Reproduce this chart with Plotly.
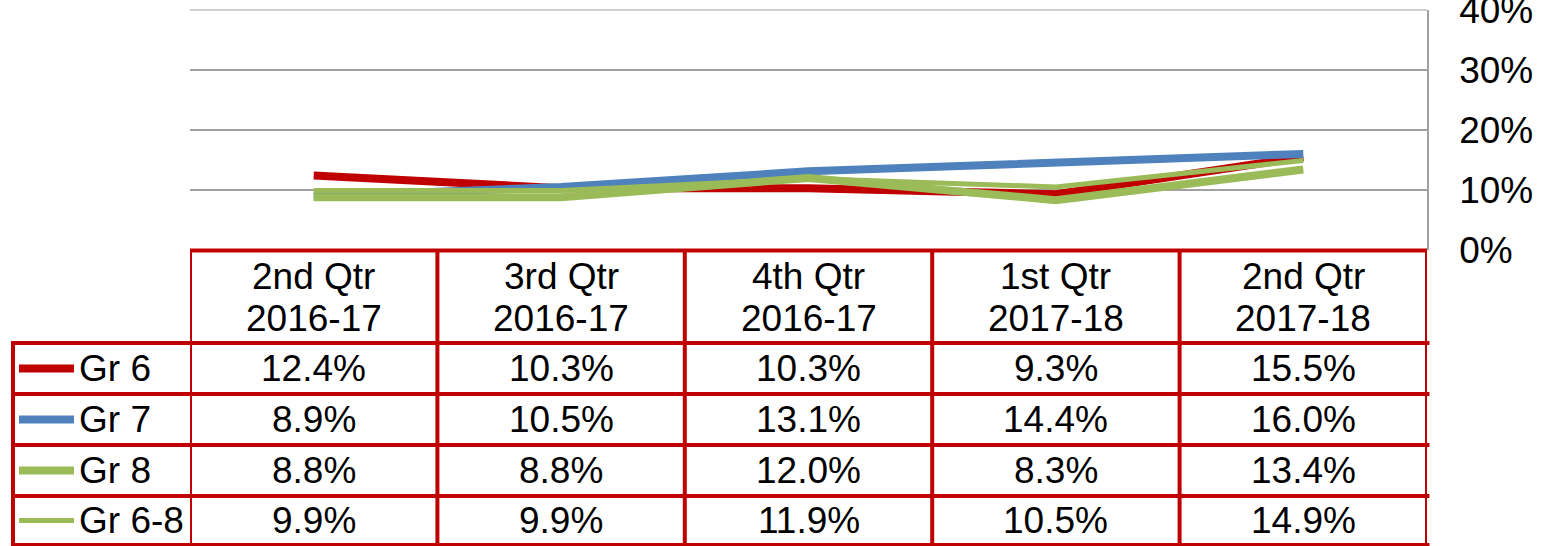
import plotly.graph_objects as go

categories = ["2nd Qtr<br>2016-17", "3rd Qtr<br>2016-17", "4th Qtr<br>2016-17",
              "1st Qtr<br>2017-18", "2nd Qtr<br>2017-18"]
series_names = ["Gr 6", "Gr 7", "Gr 8", "Gr 6-8"]
gr6 = [12.4, 10.3, 10.3, 9.3, 15.5]
gr7 = [8.9, 10.5, 13.1, 14.4, 16.0]
gr8 = [8.8, 8.8, 12.0, 8.3, 13.4]
gr68 = [9.9, 9.9, 11.9, 10.5, 14.9]
y_ticks = [0, 10, 20, 30, 40]
y_tick_labels = ["0%", "10%", "20%", "30%", "40%"]

W, H = 1542, 546
colors = ["#C00000", "#4F81BD", "#9BBB59", "#9BBB59"]
widths = [8, 8, 8, 5]
all_series = [gr6, gr7, gr8, gr68]
FONT = "Liberation Sans, Arial, sans-serif"
FS = 37
RED = "#C00000"

def py(y):
    return (H - y) / H

def px(x):
    return x / W

fig = go.Figure()
xs = list(range(len(categories)))
for name, vals, c, w in zip(series_names, all_series, colors, widths):
    fig.add_trace(go.Scatter(x=xs, y=[v / 100 for v in vals], mode="lines", name=name,
                             line=dict(color=c, width=w), showlegend=False, hoverinfo="skip"))

shapes = []
annotations = []
header_top = 250.5
row_edges = [343, 394, 445, 496, 545]
left_x = 13
lw = 4

# gridline at top of the value range (40%)
shapes.append(dict(type="line", xref="paper", yref="y", x0=px(190), x1=px(1427),
                   y0=y_ticks[-1] / 100, y1=y_ticks[-1] / 100,
                   line=dict(color="#A0A0A0", width=1.5), layer="below"))

shapes.append(dict(type="line", xref="x", yref="paper", x0=-0.5, x1=4.5,
                   y0=py(header_top), y1=py(header_top), line=dict(color=RED, width=lw)))
for y in row_edges:
    shapes.append(dict(type="line", xref="paper", yref="paper", x0=px(left_x) - 0.0013,
                       x1=px(1427.5) + 0.0013, y0=py(y), y1=py(y), line=dict(color=RED, width=lw)))
for i in range(len(categories) + 1):
    shapes.append(dict(type="line", xref="x", yref="paper", x0=i - 0.5, x1=i - 0.5,
                       y0=py(header_top) + 0.002, y1=py(row_edges[-1]) - 0.002,
                       line=dict(color=RED, width=lw)))
shapes.append(dict(type="line", xref="paper", yref="paper", x0=px(left_x), x1=px(left_x),
                   y0=py(row_edges[0]) + 0.002, y1=py(row_edges[-1]) - 0.002,
                   line=dict(color=RED, width=lw)))

header_line_y = [276, 319]
for i, cat in enumerate(categories):
    for part, yl in zip(cat.split("<br>"), header_line_y):
        annotations.append(dict(x=i, y=py(yl), xref="x", yref="paper",
                                text=part, showarrow=False, xanchor="center", yanchor="middle",
                                font=dict(family=FONT, size=FS, color="#000000")))
for r, (name, vals, c, w) in enumerate(zip(series_names, all_series, colors, widths)):
    yc = (row_edges[r] + row_edges[r + 1]) / 2
    for i, v in enumerate(vals):
        annotations.append(dict(x=i, y=py(yc), xref="x", yref="paper", text=f"{v:.1f}%",
                                showarrow=False, xanchor="center", yanchor="middle",
                                font=dict(family=FONT, size=FS, color="#000000")))
    shapes.append(dict(type="line", xref="paper", yref="paper", x0=px(19), x1=px(74),
                       y0=py(yc), y1=py(yc), line=dict(color=c, width=w)))
    annotations.append(dict(x=px(77), y=py(yc), xref="paper", yref="paper", text=name,
                            xanchor="left", yanchor="middle", showarrow=False,
                            font=dict(family=FONT, size=FS, color="#000000")))

fig.update_layout(
    width=W, height=H,
    margin=dict(l=0, r=0, t=0, b=0, autoexpand=False),
    paper_bgcolor="white", plot_bgcolor="white",
    shapes=shapes, annotations=annotations,
    xaxis=dict(domain=[px(190), px(1427)], range=[-0.5, 4.5], showgrid=False,
               showticklabels=False, zeroline=False, showline=False, ticks="",
               automargin=False),
    yaxis=dict(domain=[py(250), py(9.5)], range=[0, 0.4005], side="right",
               tickvals=[t / 100 for t in y_ticks], ticktext=y_tick_labels,
               showgrid=True, gridcolor="#A0A0A0", gridwidth=1.5,
               showline=True, linecolor="#A0A0A0", linewidth=1.5,
               zeroline=False, ticks="outside", ticklen=23, tickcolor="rgba(0,0,0,0)",
               ticklabeloverflow="allow", automargin=False,
               tickfont=dict(family=FONT, size=FS, color="#000000")),
)

fig.write_html("out.html", config={"displayModeBar": False},
               post_script="document.body.style.margin='0';document.body.style.overflow='hidden';")
